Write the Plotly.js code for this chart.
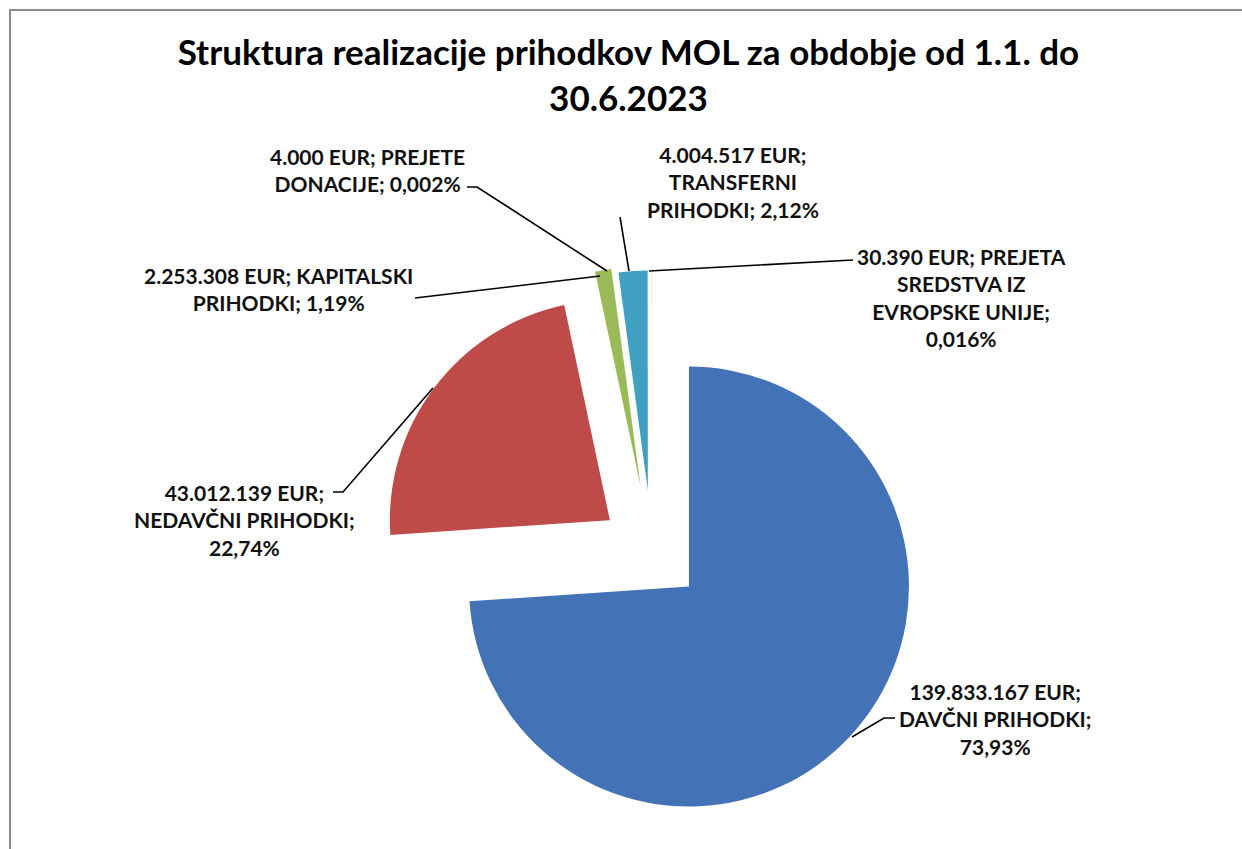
<!DOCTYPE html>
<html>
<head>
<meta charset="utf-8">
<script src="https://cdn.plot.ly/plotly-3.0.1.min.js"></script>
<style>
  html, body { margin: 0; padding: 0; background: #ffffff; }
  #chart { width: 1242px; height: 849px; }
</style>
</head>
<body>
<div id="chart"></div>
<script>
// ---- data ----
var categories = ["DAVČNI PRIHODKI", "NEDAVČNI PRIHODKI", "KAPITALSKI PRIHODKI",
                  "PREJETE DONACIJE", "TRANSFERNI PRIHODKI", "PREJETA SREDSTVA IZ EVROPSKE UNIJE"];
var values = [139833167, 43012139, 2253308, 4000, 4004517, 30390];
var valueLabels = ["139.833.167 EUR", "43.012.139 EUR", "2.253.308 EUR", "4.000 EUR", "4.004.517 EUR", "30.390 EUR"];
var percentLabels = ["73,93%", "22,74%", "1,19%", "0,002%", "2,12%", "0,016%"];
var labelTexts = [
  "139.833.167 EUR;<br>DAVČNI PRIHODKI;<br>73,93%",
  "43.012.139 EUR;<br>NEDAVČNI PRIHODKI;<br>22,74%",
  "2.253.308 EUR; KAPITALSKI<br>PRIHODKI; 1,19%",
  "4.000 EUR; PREJETE<br>DONACIJE; 0,002%",
  "4.004.517 EUR;<br>TRANSFERNI<br>PRIHODKI; 2,12%",
  "30.390 EUR; PREJETA<br>SREDSTVA IZ<br>EVROPSKE UNIJE;<br>0,016%"
];
var titleText = "Struktura realizacije prihodkov MOL za obdobje od 1.1. do<br>30.6.2023";

// ---- layout helpers (pixel -> paper) ----
var W = 1242, H = 849;
function px(x) { return x / W; }
function py(y) { return 1 - y / H; }

var colors = ["#4372B6", "#BE4B48", "#9BBB59", "#8064A2", "#3FA0C2", "#F79646"];
var pulls = [0.23, 0.24, 0.30, 0.30, 0.28, 0.30];

// pie box centred at (652,552) px, size 572 px
var cx = 652, cy = 552, half = 286;

var trace = {
  type: "pie",
  labels: categories,
  values: values,
  sort: false,
  direction: "clockwise",
  rotation: 0,
  pull: pulls,
  textinfo: "none",
  hoverinfo: "label+value+percent",
  marker: { colors: colors, line: { width: 0 } },
  domain: { x: [px(cx - half), px(cx + half)], y: [py(cy + half), py(cy - half)] },
  showlegend: false
};

// label positions (text block centres, px) and leader lines
var labelPos = [
  [995, 719], [245, 520], [278, 289], [367, 170], [733, 182], [961, 297]
];
var leaders = [
  [[895, 718], [884, 718], [852, 737]],
  [[333, 492], [343, 492], [433, 388]],
  [[415, 298], [600, 276]],
  [[467, 187], [477, 187], [607, 271]],
  [[620, 217], [629, 271]],
  [[853, 260], [649, 271]]
];

var annotations = labelTexts.map(function (t, i) {
  return {
    text: "<b>" + t + "</b>",
    xref: "paper", yref: "paper",
    x: px(labelPos[i][0]), y: py(labelPos[i][1]),
    xanchor: "center", yanchor: "middle", align: "center",
    showarrow: false,
    font: { family: "Lato, 'Open Sans', sans-serif", size: 21, color: "#111111" }
  };
});

var shapes = leaders.map(function (pts) {
  var d = pts.map(function (p, k) {
    return (k === 0 ? "M " : " L ") + px(p[0]) + " " + py(p[1]);
  }).join("");
  return { type: "path", xref: "paper", yref: "paper", path: d,
           line: { color: "#000000", width: 1.6 } };
});
// chart frame (left and top edges visible)
shapes.push({ type: "rect", xref: "paper", yref: "paper",
  x0: px(10), x1: px(1262), y0: py(870), y1: py(10),
  line: { color: "#8a8a8a", width: 2 }, fillcolor: "rgba(0,0,0,0)" });

var layout = {
  width: W, height: H,
  margin: { l: 0, r: 0, t: 0, b: 0 },
  paper_bgcolor: "#ffffff",
  title: {
    text: "<b>" + titleText + "</b>",
    x: 0.506, xanchor: "center",
    y: py(65), yanchor: "top", yref: "container",
    font: { family: "Lato, 'Open Sans', sans-serif", size: 35, color: "#000000" }
  },
  annotations: annotations,
  shapes: shapes
};

Plotly.newPlot("chart", [trace], layout, { displayModeBar: false, staticPlot: true });
</script>
</body>
</html>
